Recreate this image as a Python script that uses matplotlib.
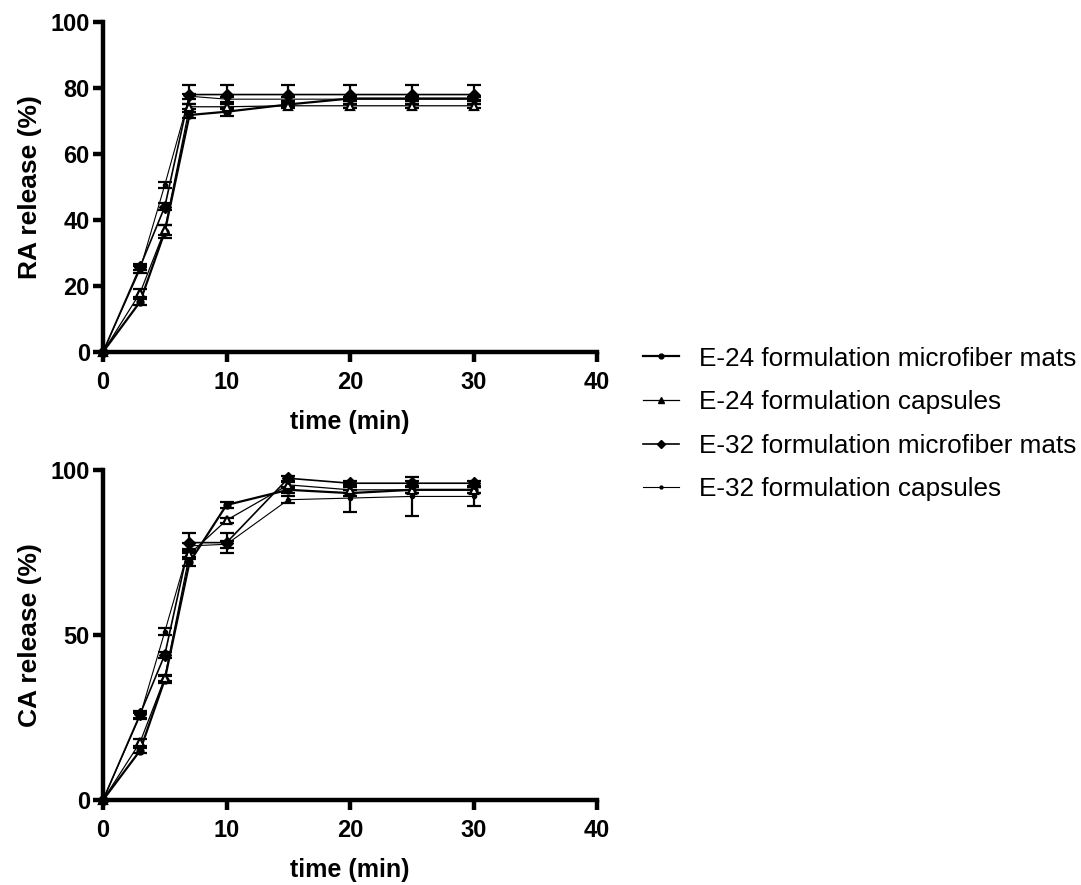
import matplotlib
matplotlib.use("Agg")
import matplotlib.pyplot as plt
import numpy as np

plt.rcParams['font.family'] = ['Liberation Sans', 'DejaVu Sans']

# time points (min)
t = [0, 3, 5, 7, 10, 15, 20, 25, 30]

labels = ["E-24 formulation microfiber mats",
          "E-24 formulation capsules",
          "E-32 formulation microfiber mats",
          "E-32 formulation capsules"]

# RA release (%)
ra_e24_mats = [0, 15.2, 36.4, 71.8, 72.8, 75.0, 76.8, 76.8, 76.8]
ra_e24_caps = [0, 17.9, 37.0, 74.3, 74.3, 74.6, 74.6, 74.6, 74.6]
ra_e32_mats = [0, 25.8, 44.0, 78.0, 78.0, 78.0, 78.0, 78.0, 78.0]
ra_e32_caps = [0, 25.0, 50.6, 77.5, 76.6, 76.6, 76.6, 76.6, 76.6]
ra_e24_mats_sd = [0, 1.0, 2.0, 1.0, 1.2, 0.6, 0.6, 0.6, 0.6]
ra_e24_caps_sd = [0, 1.2, 1.5, 0.8, 0.8, 0.6, 0.6, 0.6, 0.6]
ra_e32_mats_sd = [0, 1.0, 1.0, 3.0, 3.0, 3.0, 3.0, 3.0, 3.0]
ra_e32_caps_sd = [0, 1.0, 1.0, 0.8, 0.8, 0.6, 0.6, 0.6, 0.6]

# CA release (%)
ca_e24_mats = [0, 15.0, 36.5, 72.0, 89.4, 94.0, 93.0, 94.0, 94.0]
ca_e24_caps = [0, 17.5, 37.0, 74.5, 84.8, 95.5, 94.0, 94.0, 94.0]
ca_e32_mats = [0, 26.0, 44.0, 78.0, 78.0, 97.5, 96.0, 96.0, 96.0]
ca_e32_caps = [0, 25.5, 51.0, 77.0, 77.5, 91.0, 91.5, 92.0, 92.0]
ca_e24_mats_sd = [0, 0.8, 1.0, 1.0, 0.8, 1.0, 1.0, 1.0, 1.0]
ca_e24_caps_sd = [0, 1.0, 1.0, 1.0, 0.8, 1.0, 1.0, 1.0, 1.0]
ca_e32_mats_sd = [0, 1.0, 1.0, 3.0, 3.0, 0.8, 0.8, 0.8, 0.8]
ca_e32_caps_sd = [0, 1.0, 1.0, 1.0, 1.0, 1.0, 4.2, 6.0, 3.0]

styles = [
    dict(marker='o', ms=5, mfc='black', lw=1.6),
    dict(marker='^', ms=6, mfc='white', mew=1.6, lw=0.9),
    dict(marker='D', ms=6, mfc='black', lw=1.2),
    dict(marker='o', ms=3, mfc='black', lw=0.8),
]

fig = plt.figure(figsize=(10.81, 8.85), dpi=100)
ax1 = fig.add_axes([0.0953, 0.6023, 0.4570, 0.3729])
ax2 = fig.add_axes([0.0953, 0.0960, 0.4570, 0.3729])


def draw(ax, series, errs, yticks, ylabel):
    for y, e, st, lab in zip(series, errs, styles, labels):
        h = ax.errorbar(t, y, yerr=e, color='black', mec='black',
                        capsize=5, capthick=1.6, elinewidth=1.6,
                        clip_on=False, label=lab, **st)
        for part in h.lines[1] + h.lines[2]:
            part.set_clip_on(False)
    ax.set_xlim(0, 40)
    ax.set_ylim(0, 100)
    ax.set_xticks([0, 10, 20, 30, 40])
    ax.set_yticks(yticks)
    for s in ['top', 'right']:
        ax.spines[s].set_visible(False)
    for s in ['left', 'bottom']:
        ax.spines[s].set_linewidth(3.2)
    ax.tick_params(width=3.2, length=7.5, labelsize=17, pad=2)
    ax.tick_params(axis='x', pad=6)
    for lbl in ax.get_xticklabels() + ax.get_yticklabels():
        lbl.set_fontweight('bold')
    ax.set_xlabel("time (min)", fontsize=18, fontweight='bold', labelpad=12)
    ax.set_ylabel(ylabel, fontsize=19, fontweight='bold', labelpad=6)


draw(ax1, [ra_e24_mats, ra_e24_caps, ra_e32_mats, ra_e32_caps],
     [ra_e24_mats_sd, ra_e24_caps_sd, ra_e32_mats_sd, ra_e32_caps_sd],
     [0, 20, 40, 60, 80, 100], "RA release (%)")
draw(ax2, [ca_e24_mats, ca_e24_caps, ca_e32_mats, ca_e32_caps],
     [ca_e24_mats_sd, ca_e24_caps_sd, ca_e32_mats_sd, ca_e32_caps_sd],
     [0, 50, 100], "CA release (%)")

leg_handles = [plt.Line2D([], [], color='black', lw=st['lw'], marker=st['marker'],
                          ms=st['ms'] * 0.7, mfc='black', mec='black')
               for st in styles]
fig.legend(leg_handles, labels, loc='upper left', bbox_to_anchor=(0.5735, 0.635),
           frameon=False, fontsize=18.8, handlelength=1.35, labelspacing=0.75,
           handletextpad=0.77)

fig.savefig("out.png", dpi=100)
